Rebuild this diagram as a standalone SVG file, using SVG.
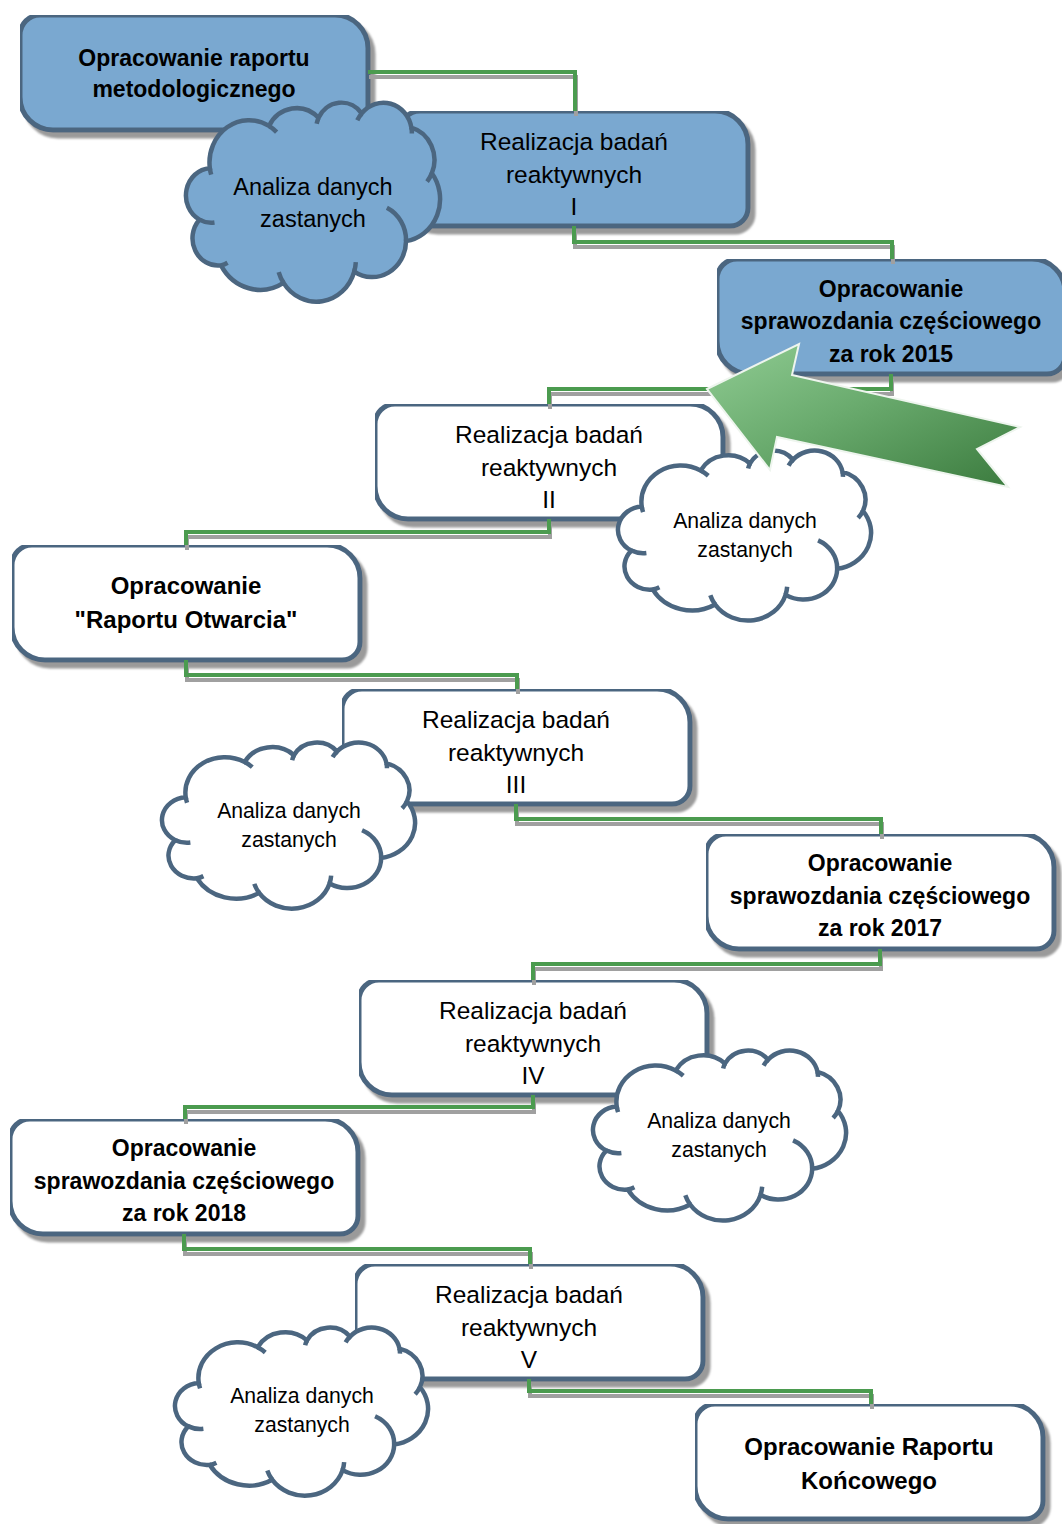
<svg xmlns="http://www.w3.org/2000/svg" xmlns:xlink="http://www.w3.org/1999/xlink" width="1062" height="1524" viewBox="0 0 1062 1524">
<style>
.box{stroke:#4b6680;stroke-width:5;filter:url(#sh)}
.blue{fill:#7aa8d0}
.white{fill:#ffffff}
.cl{stroke:#4b6680;stroke-width:4.5}
.t{font-family:"Liberation Sans",Arial,sans-serif;fill:#000;text-anchor:middle}
.b{font-weight:bold}
.conn{fill:none;stroke:#4c9b50;stroke-width:4;filter:url(#shc)}
</style>
<defs>
<filter id="sh" filterUnits="userSpaceOnUse" x="0" y="0" width="1062" height="1524">
<feGaussianBlur in="SourceAlpha" stdDeviation="0.8"/>
<feOffset dx="5" dy="6" result="o"/>
<feFlood flood-color="#9a9a9a"/>
<feComposite in2="o" operator="in"/>
<feMerge><feMergeNode/><feMergeNode in="SourceGraphic"/></feMerge>
</filter>
<filter id="shc" filterUnits="userSpaceOnUse" x="0" y="0" width="1062" height="1524">
<feOffset in="SourceAlpha" dx="1" dy="5" result="o"/>
<feFlood flood-color="#a0a0a0"/>
<feComposite in2="o" operator="in"/>
<feMerge><feMergeNode/><feMergeNode in="SourceGraphic"/></feMerge>
</filter>
<linearGradient id="ag" x1="0" y1="0" x2="1" y2="1">
<stop offset="0" stop-color="#90cc93"/>
<stop offset="0.45" stop-color="#6aab6e"/>
<stop offset="1" stop-color="#3a7a3d"/>
</linearGradient>
<path id="boxp" d="M20,0 H315 A33,33 0 0 1 348,33 V97 A18,18 0 0 1 330,115 H33 A33,33 0 0 1 0,82 V20 A20,20 0 0 1 20,0 Z"/>
<path id="cloudO" vector-effect="non-scaling-stroke" d="M3900,14370 A6753,9190 0 0 1 14005,5203 A5333,7267 0 0 1 22456,3433 A4365,5945 0 0 1 29833,2480 A4857,6595 0 0 1 38319,5574 A5333,7273 0 0 1 41819,15458 A6775,9220 0 0 1 37405,30201 A5785,7867 0 0 1 28556,36811 A6752,9215 0 0 1 16482,39265 A7720,10543 0 0 1 5805,35468 A4360,5918 0 0 1 2114,25546 A4345,5945 0 0 1 3900,14370 Z"/>
<path id="cloudI" fill="none" vector-effect="non-scaling-stroke" d="M4693,26177 A4345,5945 0 0 1 2114,25546 M6928,34899 A4360,5918 0 0 1 5805,35468 M16482,39265 A6752,9215 0 0 1 15655,36917 M28827,34751 A6752,9215 0 0 1 28556,36811 M34129,22954 A5785,7867 0 0 1 37405,30201 M41819,15458 A5333,7273 0 0 1 40997,17277 M38319,5574 A4857,6595 0 0 1 38396,6838 M29078,3952 A4857,6595 0 0 1 29833,2480 M22141,4720 A4365,5945 0 0 1 22456,3433 M14005,5203 A6753,9190 0 0 1 15306,6552 M4127,15789 A6753,9190 0 0 1 3900,14370"/>
</defs>

<g id="n1">
<use xlink:href="#boxp" href="#boxp" class="box blue" transform="translate(20,15)"/>
<text class="t b" font-size="23" x="194" y="66">Opracowanie raportu</text>
<text class="t b" font-size="23" x="194" y="97">metodologicznego</text>
</g>
<g id="n2">
<use xlink:href="#boxp" href="#boxp" class="box blue" transform="translate(400,111)"/>
<text class="t" font-size="24.5" x="574" y="150">Realizacja badań</text>
<text class="t" font-size="24.5" x="574" y="183">reaktywnych</text>
<text class="t" font-size="24.5" x="574" y="215">I</text>
</g>
<g id="n3">
<use xlink:href="#boxp" href="#boxp" class="box blue" transform="translate(717,259)"/>
<text class="t b" font-size="23" x="891" y="297">Opracowanie</text>
<text class="t b" font-size="23" x="891" y="329">sprawozdania częściowego</text>
<text class="t b" font-size="23" x="891" y="362">za rok 2015</text>
</g>
<g id="n4">
<use xlink:href="#boxp" href="#boxp" class="box white" transform="translate(375,404)"/>
<text class="t" font-size="24.5" x="549" y="443">Realizacja badań</text>
<text class="t" font-size="24.5" x="549" y="476">reaktywnych</text>
<text class="t" font-size="24.5" x="549" y="508">II</text>
</g>
<g id="n5">
<use xlink:href="#boxp" href="#boxp" class="box white" transform="translate(12,545)"/>
<text class="t b" font-size="24" x="186" y="594">Opracowanie</text>
<text class="t b" font-size="24" x="186" y="628">"Raportu Otwarcia"</text>
</g>
<g id="n6">
<use xlink:href="#boxp" href="#boxp" class="box white" transform="translate(342,689)"/>
<text class="t" font-size="24.5" x="516" y="728">Realizacja badań</text>
<text class="t" font-size="24.5" x="516" y="761">reaktywnych</text>
<text class="t" font-size="24.5" x="516" y="793">III</text>
</g>
<g id="n7">
<use xlink:href="#boxp" href="#boxp" class="box white" transform="translate(706,834)"/>
<text class="t b" font-size="23" x="880" y="871">Opracowanie</text>
<text class="t b" font-size="23" x="880" y="904">sprawozdania częściowego</text>
<text class="t b" font-size="23" x="880" y="936">za rok 2017</text>
</g>
<g id="n8">
<use xlink:href="#boxp" href="#boxp" class="box white" transform="translate(359,980)"/>
<text class="t" font-size="24.5" x="533" y="1019">Realizacja badań</text>
<text class="t" font-size="24.5" x="533" y="1052">reaktywnych</text>
<text class="t" font-size="24.5" x="533" y="1084">IV</text>
</g>
<g id="n9">
<use xlink:href="#boxp" href="#boxp" class="box white" transform="translate(10,1119)"/>
<text class="t b" font-size="23" x="184" y="1156">Opracowanie</text>
<text class="t b" font-size="23" x="184" y="1189">sprawozdania częściowego</text>
<text class="t b" font-size="23" x="184" y="1221">za rok 2018</text>
</g>
<g id="n10">
<use xlink:href="#boxp" href="#boxp" class="box white" transform="translate(355,1264)"/>
<text class="t" font-size="24.5" x="529" y="1303">Realizacja badań</text>
<text class="t" font-size="24.5" x="529" y="1336">reaktywnych</text>
<text class="t" font-size="24.5" x="529" y="1368">V</text>
</g>
<g id="n11">
<use xlink:href="#boxp" href="#boxp" class="box white" transform="translate(695,1404)"/>
<text class="t b" font-size="24" x="869" y="1455">Opracowanie Raportu</text>
<text class="t b" font-size="24" x="869" y="1489">Końcowego</text>
</g>

<g id="connectors">
<path class="conn" d="M368,72 H575 V111"/>
<path class="conn" d="M574,226 V242 H892 V259"/>
<path class="conn" d="M891,374 V389 H549 V404"/>
<path class="conn" d="M549,519 V532 H186 V545"/>
<path class="conn" d="M186,660 V675 H517 V689"/>
<path class="conn" d="M516,804 V819 H881 V834"/>
<path class="conn" d="M880,949 V964 H533 V980"/>
<path class="conn" d="M533,1095 V1107 H185 V1119"/>
<path class="conn" d="M184,1234 V1249 H530 V1264"/>
<path class="conn" d="M529,1379 V1391 H871 V1404"/>
</g>

<g id="cloud1">
<g transform="translate(187,102) scale(0.005856,0.004606)">
<use xlink:href="#cloudO" href="#cloudO" class="cl blue"/>
<use xlink:href="#cloudI" href="#cloudI" class="cl"/>
</g>
<text class="t" font-size="23.5" x="313" y="195">Analiza danych</text>
<text class="t" font-size="23.5" x="313" y="227">zastanych</text>
</g>
<g id="cloud2">
<g transform="translate(619,450) scale(0.005833,0.003935)">
<use xlink:href="#cloudO" href="#cloudO" class="cl white"/>
<use xlink:href="#cloudI" href="#cloudI" class="cl"/>
</g>
<text class="t" font-size="21.2" x="745" y="528">Analiza danych</text>
<text class="t" font-size="21.2" x="745" y="557">zastanych</text>
</g>
<g id="cloud3">
<g transform="translate(163,742) scale(0.005833,0.003843)">
<use xlink:href="#cloudO" href="#cloudO" class="cl white"/>
<use xlink:href="#cloudI" href="#cloudI" class="cl"/>
</g>
<text class="t" font-size="21.2" x="289" y="818">Analiza danych</text>
<text class="t" font-size="21.2" x="289" y="847">zastanych</text>
</g>
<g id="cloud4">
<g transform="translate(594,1050) scale(0.005833,0.003935)">
<use xlink:href="#cloudO" href="#cloudO" class="cl white"/>
<use xlink:href="#cloudI" href="#cloudI" class="cl"/>
</g>
<text class="t" font-size="21.2" x="719" y="1128">Analiza danych</text>
<text class="t" font-size="21.2" x="719" y="1157">zastanych</text>
</g>
<g id="cloud5">
<g transform="translate(176,1327) scale(0.005833,0.003889)">
<use xlink:href="#cloudO" href="#cloudO" class="cl white"/>
<use xlink:href="#cloudI" href="#cloudI" class="cl"/>
</g>
<text class="t" font-size="21.2" x="302" y="1403">Analiza danych</text>
<text class="t" font-size="21.2" x="302" y="1432">zastanych</text>
</g>

<g id="arrow">
<polygon points="707,389 799,344 792,375 1020,427 977,449 1008,487 777,437 770,470" fill="url(#ag)" stroke="#eef5ee" stroke-width="2" stroke-linejoin="miter"/>
</g>
</svg>
